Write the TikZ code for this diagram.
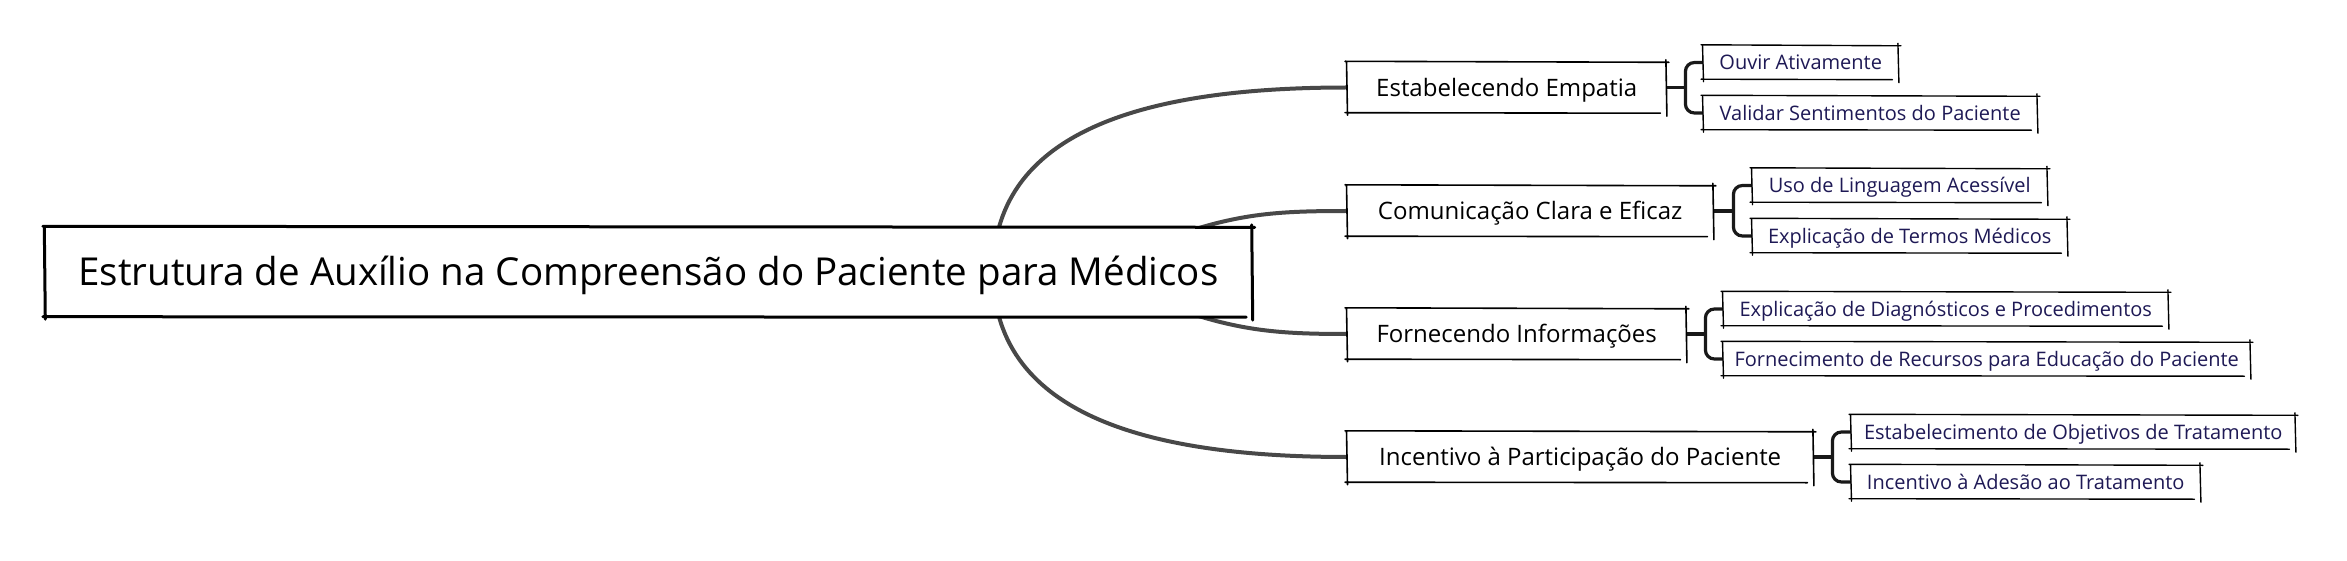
\documentclass[tikz,border=0pt]{standalone}
\usepackage{fontspec}
\setmainfont{Open Sans}
\usetikzlibrary{calc,backgrounds}
\definecolor{leaftext}{RGB}{30,25,85}
\definecolor{curvecol}{RGB}{72,72,72}
\newcommand\sketchbox[2]{%
  \draw[line width=#2, black, line cap=round]
    ([shift={(-2pt,0.5pt)}]#1.north west) -- ([shift={(2.5pt,-0.5pt)}]#1.north east)
    ([shift={(-0.5pt,2pt)}]#1.north east) -- ([shift={(0.5pt,-3pt)}]#1.south east)
    ([shift={(-6pt,0pt)}]#1.south east) -- ([shift={(-2pt,0.5pt)}]#1.south west)
    ([shift={(0.5pt,-2pt)}]#1.south west) -- ([shift={(-0.5pt,0pt)}]#1.north west);
}
\tikzset{
  rootbox/.style={text height=33pt, text depth=5.5pt, fill=white, minimum width=1207pt,
    minimum height=90pt, inner sep=0pt, font=\fontsize{38.5}{44}\selectfont},
  branchbox/.style={text height=20.6pt, text depth=3.4pt, fill=white, anchor=west,
    minimum height=51pt, inner sep=0pt, font=\fontsize{24}{28}\selectfont},
  leafbox/.style={text height=17.2pt, text depth=2.8pt, fill=white, anchor=west,
    minimum height=34pt, inner sep=0pt, text=leaftext, font=\fontsize{20}{24}\selectfont},
  curve/.style={draw=curvecol, line width=4pt},
  bracket/.style={draw=black!90, line width=3.2pt},
}
\begin{document}
\begin{tikzpicture}[x=1pt,y=-1pt]
\useasboundingbox (0,0) rectangle (2347,561);

% root
\node[rootbox] (root) at (648.5,272) {Estrutura de Auxílio na Compreensão do Paciente para Médicos};

% branches
\node[branchbox, minimum width=319pt] (b1) at (1347,87.5) {Estabelecendo Empatia};
\node[branchbox, minimum width=366pt] (b2) at (1347,211) {Comunicação Clara e Eficaz};
\node[branchbox, minimum width=339pt] (b3) at (1347,334) {Fornecendo Informações};
\node[branchbox, minimum width=466pt] (b4) at (1347,457) {Incentivo à Participação do Paciente};

% leaves
\node[leafbox, minimum width=195pt] (l1a) at (1703,62.5) {Ouvir Ativamente};
\node[leafbox, minimum width=334pt] (l1b) at (1703,113) {Validar Sentimentos do Paciente};
\node[leafbox, minimum width=295pt] (l2a) at (1752,185.5) {Uso de Linguagem Acessível};
\node[leafbox, minimum width=315pt] (l2b) at (1752,236) {Explicação de Termos Médicos};
\node[leafbox, minimum width=445pt] (l3a) at (1723,309) {Explicação de Diagnósticos e Procedimentos};
\node[leafbox, minimum width=527pt] (l3b) at (1723,359) {Fornecimento de Recursos para Educação do Paciente};
\node[leafbox, minimum width=444pt] (l4a) at (1851,432) {Estabelecimento de Objetivos de Tratamento};
\node[leafbox, minimum width=349pt] (l4b) at (1851,482) {Incentivo à Adesão ao Tratamento};

% curves (behind root)
\begin{scope}[on background layer]
\draw[curve] ($(root.east)+(-259,0)$) .. controls +(0,-148) and (1160,87.5) .. (b1.west);
\draw[curve] ($(root.east)+(-102,-27)$) .. controls (1230,214) and (1270,211) .. (b2.west);
\draw[curve] ($(root.east)+(-102,27)$) .. controls (1230,330) and (1270,334) .. (b3.west);
\draw[curve] ($(root.east)+(-259,0)$) .. controls +(0,148) and (1160,457) .. (b4.west);
\end{scope}

% brackets
\draw[bracket] (b1.east) -- ++(19,0) coordinate (v1);
\draw[bracket, rounded corners=9pt] (l1a.west) -| (v1) |- (l1b.west);
\draw[bracket] (b2.east) -- ++(20,0) coordinate (v2);
\draw[bracket, rounded corners=9pt] (l2a.west) -| (v2) |- (l2b.west);
\draw[bracket] (b3.east) -- ++(19,0) coordinate (v3);
\draw[bracket, rounded corners=9pt] (l3a.west) -| (v3) |- (l3b.west);
\draw[bracket] (b4.east) -- ++(19,0) coordinate (v4);
\draw[bracket, rounded corners=9pt] (l4a.west) -| (v4) |- (l4b.west);

% sketchy borders
\sketchbox{root}{3pt}
\sketchbox{b1}{1.6pt}
\sketchbox{b2}{1.6pt}
\sketchbox{b3}{1.6pt}
\sketchbox{b4}{1.6pt}
\sketchbox{l1a}{1.4pt}
\sketchbox{l1b}{1.4pt}
\sketchbox{l2a}{1.4pt}
\sketchbox{l2b}{1.4pt}
\sketchbox{l3a}{1.4pt}
\sketchbox{l3b}{1.4pt}
\sketchbox{l4a}{1.4pt}
\sketchbox{l4b}{1.4pt}
\end{tikzpicture}
\end{document}
